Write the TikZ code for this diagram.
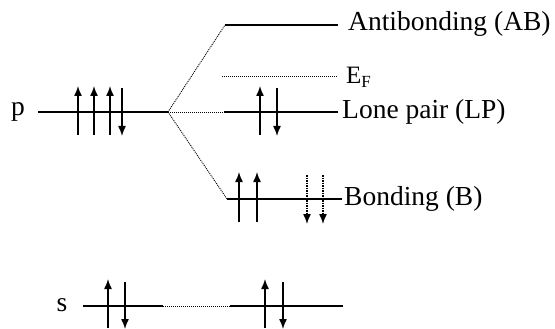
\documentclass[tikz,border=0pt]{standalone}
\usepackage{fontspec}
\setmainfont{Liberation Serif}
\usetikzlibrary{arrows.meta}
\tikzset{corr/.style={dash pattern=on 1pt off 1pt, line width=0.9pt}}
\tikzset{level/.style={line width=1.6pt}}
\tikzset{spin/.style={line width=1.4pt, -{Latex[length=10pt,width=8pt]}}}
\tikzset{ghost/.style={spin, dash pattern=on 1.5pt off 1pt}}
\newcommand{\fermi}{E\raisebox{-4pt}{\fontsize{17}{19}\selectfont F}}

\begin{document}
\begin{tikzpicture}[x=1pt,y=-1pt]
	% Default action for each node
	\tikzstyle{every node}=[inner sep=0pt, font=\fontsize{27.5}{32}\selectfont];
	\useasboundingbox (0,0) rectangle (555,329);

	% atomic levels (left)
	\coordinate (pL) at (38,112);	\coordinate (pR) at (168,112);
	\coordinate (sL) at (83,306);	\coordinate (sR) at (163,306);
	\node[anchor=base] (p) at (18,116) {p};
	\node[anchor=base] (s) at (62,311) {s};

	% molecular levels (right)
	\coordinate (abL) at (225,25);	\coordinate (abR) at (338,25);
	\coordinate (efL) at (222,76);	\coordinate (efR) at (338,76);
	\coordinate (lpL) at (224,112);	\coordinate (lpR) at (338,112);
	\coordinate (bL) at (227,199);	\coordinate (bR) at (342,199);
	\coordinate (tL) at (230,306);	\coordinate (tR) at (343,306);

	\node[anchor=base west] (ab) at (348,31) {Antibonding (AB)};
	\node[anchor=base west] (ef) at (346,84) {\fontsize{25}{29}\selectfont\fermi};
	\node[anchor=base west] (lp) at (342,118) {Lone pair (LP)};
	\node[anchor=base west] (b) at (344,205) {Bonding (B)};

	\draw[level] (pL) -- (pR);
	\draw[level] (sL) -- (sR);
	\draw[level] (abL) -- (abR);
	\draw[corr] (efL) -- (efR);
	\draw[level] (lpL) -- (lpR);
	\draw[level] (bL) -- (bR);
	\draw[level] (tL) -- (tR);

	\draw[corr] (pR) -- (abL);
	\draw[corr] (pR) -- (lpL);
	\draw[corr] (pR) -- (bL);
	\draw[corr] (sR) -- (tL);

	% electrons
	\foreach \x in {78,94,110} \draw[spin] (\x,135) -- (\x,86);
	\draw[spin] (122,88) -- (122,136);
	\draw[spin] (260,135) -- (260,86);
	\draw[spin] (277,88) -- (277,136);
	\foreach \x in {239,257} \draw[spin] (\x,222) -- (\x,172);
	\foreach \x in {307,323} \draw[ghost] (\x,175) -- (\x,224);
	\draw[spin] (108,328) -- (108,279);
	\draw[spin] (125,282) -- (125,329);
	\draw[spin] (265,328) -- (265,279);
	\draw[spin] (283,282) -- (283,329);

\end{tikzpicture}
\end{document}
